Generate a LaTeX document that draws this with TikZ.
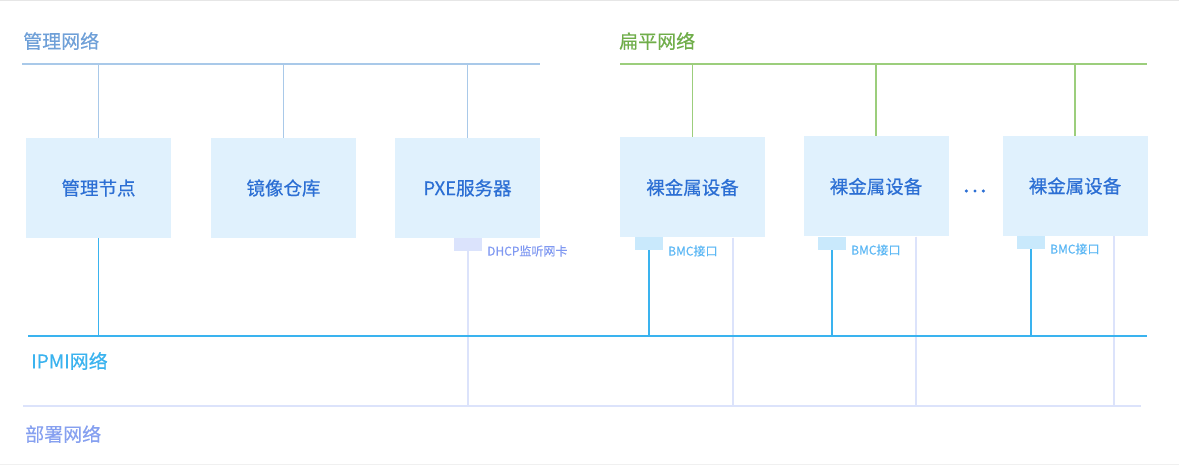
\documentclass[tikz,border=0pt]{standalone}
\usepackage{fontspec}
\setmainfont{Noto Sans CJK SC}
\newfontfamily\medfont[FakeBold=0.5]{Noto Sans CJK SC}
\newfontfamily\labfont[FakeBold=0.3]{Noto Sans CJK SC}
\usetikzlibrary{positioning}
\definecolor{mgmtline}{HTML}{A9C9E9}
\definecolor{mgmttext}{HTML}{6FA0D8}
\definecolor{boxfill}{HTML}{E0F1FD}
\definecolor{boxtext}{HTML}{2C6FD4}
\definecolor{flatline}{HTML}{9CCE7C}
\definecolor{flattext}{HTML}{70AE4A}
\definecolor{ipmi}{HTML}{3AB3EF}
\definecolor{deploy}{HTML}{DCE3FB}
\definecolor{deploytext}{HTML}{86A0F0}
\definecolor{dhcpfill}{HTML}{DBE3FC}
\definecolor{dhcptext}{HTML}{8099F2}
\definecolor{bmcfill}{HTML}{C9E9FC}
\definecolor{bmctext}{HTML}{5CB8F5}
\definecolor{frame}{HTML}{E6E6E6}
\tikzset{
  devbox/.style={fill=boxfill, draw=none, minimum width=145pt, minimum height=100pt, inner sep=0pt,
    text=boxtext, font=\medfont\fontsize{18.5}{22}\selectfont},
  netlabel/.style={anchor=west, inner sep=0pt, font=\labfont\fontsize{19}{22}\selectfont},
  portbox/.style={draw=none, minimum width=28pt, minimum height=13pt, inner sep=0pt, anchor=north},
  portlabel/.style={anchor=west, inner sep=0pt, font=\labfont\fontsize{12}{14}\selectfont},
}
\begin{document}
\begin{tikzpicture}[x=1pt,y=-1pt]
\useasboundingbox (0,0) rectangle (1179,465);
\fill[white] (0,0) rectangle (1179,465);
\draw[frame, line width=1.2pt] (0,0.8) -- (1179,0.8);
\draw[frame!60, line width=0.8pt] (0,464.4) -- (1179,464.4);

% network labels
\node[netlabel, text=mgmttext] (mgmtlabel) at (23,41) {管理网络};
\node[netlabel, text=flattext] (flatlabel) at (619,41) {扁平网络};
\node[netlabel, text=ipmi] (ipmilabel) at (31,361) {IPMI网络};
\node[netlabel, text=deploytext] (deploylabel) at (25,434) {部署网络};

% bus coordinates
\coordinate (mgmtL) at (22,64);
\coordinate (mgmtR) at (540,64);
\coordinate (flatL) at (620,64);
\coordinate (flatR) at (1147,64);
\coordinate (ipmiL) at (28,336);
\coordinate (ipmiR) at (1147,336);
\coordinate (depL) at (23,406);
\coordinate (depR) at (1141,406);

% boxes
\node[devbox] (mgr) at (98.5,188) {\raisebox{-2pt}{管理节点}};
\node[devbox] (img) at (283.5,188) {\raisebox{-2pt}{镜像仓库}};
\node[devbox] (pxe) at (467.5,188) {\raisebox{-2pt}{PXE服务器}};
\node[devbox] (bm1) at (692.5,187.5) {\raisebox{-2pt}{裸金属设备}};
\node[devbox] (bm2) at (876,186.5) {\raisebox{-2pt}{裸金属设备}};
\node[devbox] (bm3) at (1075,186) {\raisebox{-2pt}{裸金属设备}};
\node[inner sep=0pt, minimum size=4pt] (dots) at (975,191) {};
\foreach \dx in {-8.7,0,8.3} \fill[boxtext] ([xshift=\dx pt]dots.center) circle (1.7pt);

% ports
\node[portbox, fill=dhcpfill] (dhcp) at (468,238) {};
\node[portlabel, text=dhcptext] (dhcplabel) at (487,251) {DHCP监听网卡};
\node[portbox, fill=bmcfill] (bmc1) at (649,237) {};
\node[portlabel, text=bmctext] (bmc1label) at (668,251) {BMC接口};
\node[portbox, fill=bmcfill] (bmc2) at (832,237) {};
\node[portlabel, text=bmctext] (bmc2label) at (851,250) {BMC接口};
\node[portbox, fill=bmcfill] (bmc3) at (1031,236) {};
\node[portlabel, text=bmctext] (bmc3label) at (1050,249) {BMC接口};

% deploy drops
\coordinate (d1) at (733,406);
\coordinate (d2) at (916,406);
\coordinate (d3) at (1114,406);
\draw[deploy, line width=1.8pt] (dhcp.south) -- (dhcp.south |- depL);
\draw[deploy, line width=1.8pt] (d1 |- bm1.south) -- (d1);
\draw[deploy, line width=1.8pt] (d2 |- bm2.south) -- (d2);
\draw[deploy, line width=1.8pt] (d3 |- bm3.south) -- (d3);
\draw[deploy, line width=1.8pt] (depL) -- (depR);

% IPMI drops
\draw[ipmi, line width=1.6pt] (mgr.south) -- (mgr.south |- ipmiL);
\draw[ipmi, line width=1.6pt] (bmc1.south) -- (bmc1.south |- ipmiL);
\draw[ipmi, line width=1.6pt] (bmc2.south) -- (bmc2.south |- ipmiL);
\draw[ipmi, line width=1.6pt] (bmc3.south) -- (bmc3.south |- ipmiL);
\draw[ipmi, line width=2pt] (ipmiL) -- (ipmiR);

% management bus
\draw[mgmtline, line width=1.8pt] (mgmtL) -- (mgmtR);
\draw[mgmtline, line width=1.4pt] (mgr.north |- mgmtL) -- (mgr.north);
\draw[mgmtline, line width=1.4pt] (img.north |- mgmtL) -- (img.north);
\draw[mgmtline, line width=1.4pt] (pxe.north |- mgmtL) -- (pxe.north);

% flat bus
\draw[flatline, line width=1.8pt] (flatL) -- (flatR);
\draw[flatline, line width=1.4pt] (bm1.north |- flatL) -- (bm1.north);
\draw[flatline, line width=1.4pt] (bm2.north |- flatL) -- (bm2.north);
\draw[flatline, line width=1.4pt] (bm3.north |- flatL) -- (bm3.north);
\end{tikzpicture}
\end{document}
